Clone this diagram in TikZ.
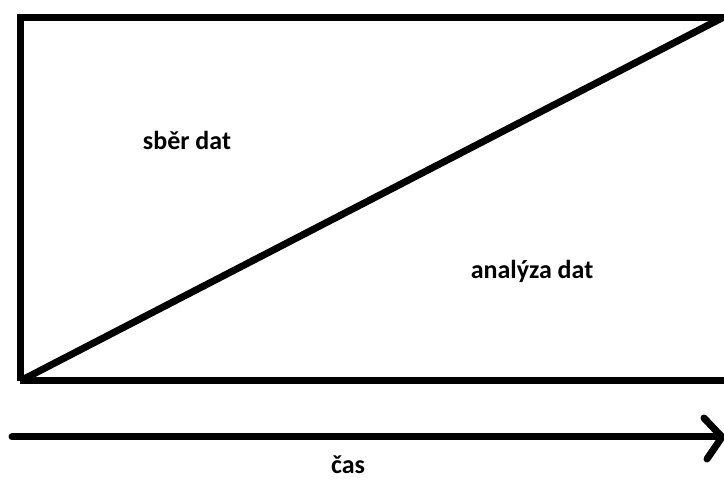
\documentclass[tikz,border=0pt]{standalone}
\usepackage{fontspec}
\setmainfont{Carlito}
\begin{document}
\begin{tikzpicture}[x=1pt,y=1pt,
  thick line/.style={line width=7pt,black},
  lbl/.style={font=\fontsize{26}{30}\selectfont\bfseries,inner sep=0pt}]
\useasboundingbox (0,0) rectangle (724,480);
\begin{scope}
\clip (0,0) rectangle (724,480);
\coordinate (bl) at (20,99);
\coordinate (tl) at (20,462);
\coordinate (tr) at (730,462);
\coordinate (br) at (730,99);
\coordinate (dtop) at (722,462);
\draw[thick line] (bl) -- (tl) -- (tr) (br) -- (bl) -- cycle;
\draw[thick line] (bl) -- (dtop);
\coordinate (a0) at (12,43);
\coordinate (a1) at (722,43);
\draw[thick line,line cap=round] (a0) -- (a1);
\draw[thick line,line cap=round,line join=round] (704,62) -- (a1) -- (707,21);
\end{scope}
\node[lbl] (s) at (187,340) {sběr dat};
\node[lbl] (a) at (532,209) {analýza dat};
\node[lbl,anchor=base] (c) at (348,6) {čas};
\end{tikzpicture}
\end{document}
